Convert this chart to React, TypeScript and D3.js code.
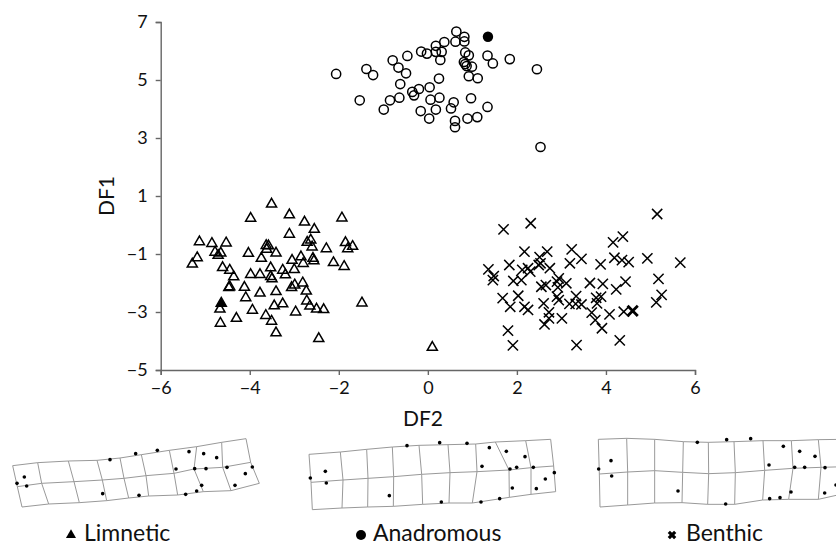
import React, { useRef, useEffect } from 'react';
import * as d3 from 'd3';

type Pt = [number, number];

const xTicks = [-6, -4, -2, 0, 2, 4, 6];
const yTicks = [-5, -3, -1, 1, 3, 5, 7];

// DF2, DF1
const anadromous: Pt[] = [
  [-2.06, 5.21], [-1.38, 5.38], [-1.23, 5.17], [-1.53, 4.3], [-0.99, 3.98], [-0.85, 4.3], [-0.64, 4.39], [-0.62, 4.86],
  [-0.49, 5.23], [-0.66, 5.43], [-0.79, 5.68], [-0.46, 5.83], [-0.15, 5.98], [-0.02, 5.91], [0.18, 6.18], [0.18, 5.97],
  [0.31, 5.97], [0.28, 5.69], [0.37, 6.31], [0.62, 6.32], [0.64, 6.67], [0.82, 6.49], [0.82, 6.33], [0.84, 5.95],
  [0.92, 5.85], [0.81, 5.62], [0.84, 5.55], [0.87, 5.48], [0.99, 5.46], [0.92, 5.13], [1.12, 5.06], [1.34, 5.84],
  [1.46, 5.57], [1.84, 5.72], [2.45, 5.37], [2.53, 2.69], [0.25, 5.05], [0.04, 4.75], [-0.2, 4.69], [-0.35, 4.59],
  [-0.31, 4.47], [0.06, 4.32], [0.26, 4.39], [0.58, 4.23], [0.52, 4.02], [0.97, 4.37], [1.34, 4.07], [1.11, 3.72],
  [0.89, 3.67], [0.61, 3.59], [0.61, 3.37], [0.18, 3.98], [-0.16, 3.93], [0.03, 3.67],
];
const limnetic: Pt[] = [
  [-3.51, 0.72], [-3.98, 0.23], [-3.11, 0.35], [-2.77, 0.1], [-1.93, 0.24], [-2.55, -0.15], [-3.11, -0.32], [-5.13, -0.58],
  [-4.85, -0.64], [-4.53, -0.62], [-4.78, -0.94], [-4.65, -0.97], [-4.71, -1.05], [-5.18, -1.13], [-5.29, -1.35], [-4.03, -0.98],
  [-3.74, -1.15], [-3.63, -0.71], [-3.58, -0.72], [-3.62, -0.84], [-3.41, -0.97], [-2.71, -0.6], [-2.63, -0.52], [-2.6, -0.76],
  [-2.28, -0.82], [-1.85, -0.61], [-1.8, -0.82], [-1.69, -0.74], [-3.05, -1.22], [-2.85, -1.1], [-2.8, -1.33], [-2.58, -1.15],
  [-2.56, -1.24], [-2.12, -1.3], [-1.88, -1.43], [-4.61, -1.47], [-4.45, -1.56], [-4.36, -1.79], [-4.45, -2.13], [-4.47, -2.16],
  [-3.98, -1.71], [-3.77, -1.71], [-3.53, -1.48], [-3.26, -1.56], [-3.2, -1.72], [-3.0, -1.54], [-3.53, -1.78], [-3.5, -1.86],
  [-4.12, -2.15], [-3.77, -2.35], [-3.41, -2.3], [-4.09, -2.51], [-3.06, -2.16], [-2.99, -2.07], [-2.81, -2.0], [-2.73, -2.28],
  [-2.72, -2.62], [-2.65, -2.8], [-2.5, -2.9], [-2.34, -2.92], [-1.48, -2.69], [-3.26, -2.72], [-3.45, -2.79], [-3.94, -2.94],
  [-2.97, -3.0], [-3.64, -3.12], [-3.51, -3.32], [-3.41, -3.72], [-2.45, -3.92], [-4.3, -3.22], [-4.66, -3.39], [-4.67, -2.9],
  [0.1, -4.22],
];
const benthic: Pt[] = [
  [5.15, 0.38], [2.31, 0.06], [1.7, -0.15], [4.38, -0.4], [4.16, -0.6], [2.17, -0.92], [2.68, -0.92], [3.23, -0.84],
  [2.51, -1.11], [3.45, -1.17], [3.19, -1.32], [3.88, -1.36], [4.19, -1.13], [4.36, -1.21], [4.51, -1.28], [4.93, -1.15],
  [5.67, -1.3], [1.36, -1.53], [1.48, -1.76], [1.46, -1.9], [1.83, -1.38], [2.12, -1.55], [2.25, -1.49], [2.3, -1.61],
  [2.53, -1.32], [2.49, -1.38], [2.74, -1.49], [1.92, -1.93], [2.1, -1.9], [2.55, -2.13], [2.65, -2.07], [2.9, -1.95],
  [2.94, -1.84], [3.11, -2.01], [2.92, -2.15], [3.64, -2.0], [3.93, -2.03], [4.44, -1.95], [4.23, -2.22], [5.18, -1.86],
  [5.25, -2.41], [5.13, -2.67], [1.68, -2.52], [2.03, -2.44], [1.85, -2.82], [2.17, -2.82], [2.25, -2.93], [2.6, -2.7],
  [2.9, -2.47], [2.94, -2.59], [3.33, -2.45], [3.18, -2.72], [3.32, -2.72], [3.45, -2.74], [3.78, -2.51], [3.89, -2.47],
  [3.8, -2.7], [3.68, -3.02], [4.08, -3.08], [3.76, -3.28], [3.91, -3.56], [4.4, -2.99], [2.72, -3.01], [2.72, -3.22],
  [2.62, -3.43], [3.01, -3.22], [1.8, -3.64], [1.91, -4.15], [3.34, -4.14], [4.31, -3.98],
];
const limneticMean: Pt[] = [[-4.64, -2.7]];
const anadromousMean: Pt[] = [[1.35, 6.49]];
const benthicMean: Pt[] = [[4.6, -2.96]];

// deformation grids: columns of top, middle and bottom nodes, in panel units
const limneticGrid: Pt[][] = [
  [[38, 122], [52, 185], [66, 246]], [[113, 113], [125, 175], [146, 237]], [[205, 108], [222, 170], [238, 233]],
  [[291, 106], [307, 165], [320, 227]], [[360, 99], [372, 160], [386, 219]], [[424, 89], [438, 152], [446, 213]],
  [[508, 76], [522, 145], [533, 210]], [[590, 65], [582, 132], [610, 200]], [[665, 52], [668, 127], [693, 197]],
  [[738, 41], [752, 112], [778, 175]],
];
const limneticDots: Pt[] = [
  [73, 156], [51, 175], [80, 183], [330, 104], [407, 86], [472, 76], [567, 80], [611, 86], [650, 98], [528, 132], [584, 131],
  [618, 131], [681, 127], [757, 126], [736, 146], [705, 181], [605, 181], [590, 198], [557, 208], [417, 211], [308, 206],
];
const anadromousGrid: Pt[][] = [
  [[57, 88], [63, 172], [67, 254]], [[151, 81], [159, 165], [156, 249]], [[230, 73], [234, 160], [233, 246]],
  [[307, 66], [311, 155], [310, 244]], [[387, 61], [395, 148], [398, 238]], [[474, 59], [480, 143], [477, 234]],
  [[557, 57], [561, 140], [547, 234]], [[616, 51], [657, 135], [658, 217]], [[707, 47], [723, 128], [723, 208]],
  [[782, 43], [791, 123], [797, 200]],
];
const anadromousDots: Pt[] = [
  [106, 139], [61, 159], [109, 174], [351, 62], [449, 53], [531, 55], [598, 68], [649, 79], [705, 95], [576, 124], [660, 132],
  [680, 127], [730, 127], [793, 143], [766, 162], [739, 191], [667, 189], [629, 221], [573, 231], [454, 231], [298, 212],
];
const benthicGrid: Pt[][] = [
  [[67, 43], [70, 147], [72, 246]], [[152, 40], [155, 141], [155, 240]], [[236, 43], [236, 137], [236, 234]],
  [[322, 50], [320, 142], [318, 233]], [[397, 52], [398, 146], [395, 238]], [[474, 50], [478, 143], [476, 238]],
  [[561, 47], [566, 136], [560, 225]], [[646, 47], [651, 130], [638, 223]], [[727, 44], [735, 127], [727, 223]],
  [[800, 43], [810, 125], [830, 200]],
];
const benthicDots: Pt[] = [
  [105, 107], [68, 132], [107, 153], [364, 52], [452, 44], [524, 41], [622, 64], [671, 79], [717, 94], [579, 120], [656, 127],
  [686, 127], [747, 128], [746, 204], [645, 201], [612, 218], [581, 221], [449, 237], [306, 198], [780, 180],
];

const FONT = 'Lato, "Noto Sans", sans-serif';

const App = () => {
  const ref = useRef<SVGSVGElement>(null);

  useEffect(() => {
    const svg = d3.select(ref.current);
    svg.selectAll('*').remove();

    const x = d3.scaleLinear().domain([-6, 6]).range([160.7, 695]);
    const y = d3.scaleLinear().domain([-5, 7]).range([370, 22]);

    const styleAxis = (g: any) => {
      g.selectAll('path,line').attr('stroke', '#666').attr('stroke-width', 1.4);
      g.selectAll('text').attr('fill', '#111').attr('font-family', FONT).attr('font-size', 18);
    };

    svg.append('g').attr('transform', `translate(${x(-6)},0)`)
      .call(d3.axisLeft(y).tickValues(yTicks).tickSizeOuter(0).tickSize(5).tickPadding(8))
      .call(styleAxis);
    svg.append('g').attr('transform', `translate(0,${y(-5)})`)
      .call(d3.axisBottom(x).tickValues(xTicks).tickSizeOuter(0).tickSize(5).tickPadding(6))
      .call(styleAxis);

    svg.append('text').attr('x', 423).attr('y', 426).attr('text-anchor', 'middle')
      .attr('font-family', FONT).attr('font-size', 21).attr('fill', '#111').text('DF2');
    svg.append('text').attr('transform', 'translate(114,196) rotate(-90)').attr('text-anchor', 'middle')
      .attr('font-family', FONT).attr('font-size', 21).attr('fill', '#111').text('DF1');

    const triangle = d3.symbol().type(d3.symbolTriangle).size(44)();
    const times = d3.symbol().type(d3.symbolTimes).size(70)();

    const drawSymbols = (data: Pt[], path: string | null, opts: any) =>
      svg.append('g').selectAll('path').data(data).enter().append('path')
        .attr('transform', d => `translate(${x(d[0])},${y(d[1])})`)
        .attr('d', path)
        .attr('fill', opts.fill)
        .attr('stroke', '#000')
        .attr('stroke-width', opts.width);

    svg.append('g').selectAll('circle').data(anadromous).enter().append('circle')
      .attr('cx', d => x(d[0])).attr('cy', d => y(d[1])).attr('r', 4.6)
      .attr('fill', 'none').attr('stroke', '#000').attr('stroke-width', 1.5);
    drawSymbols(limnetic, triangle, { fill: 'none', width: 1.5 });
    drawSymbols(benthic, times, { fill: 'none', width: 1.5 });

    svg.append('g').selectAll('circle').data(anadromousMean).enter().append('circle')
      .attr('cx', d => x(d[0])).attr('cy', d => y(d[1])).attr('r', 5.2).attr('fill', '#000');
    drawSymbols(limneticMean, triangle, { fill: '#000', width: 1.5 });
    drawSymbols(benthicMean, times, { fill: 'none', width: 2.8 });

    // Deformation grids
    const drawGrid = (left: number, top: number, grid: Pt[][], dots: Pt[]) => {
      const px = d3.scaleLinear().domain([0, 3]).range([left, left + 1]);
      const py = d3.scaleLinear().domain([0, 3]).range([top, top + 1]);
      const line = d3.line<Pt>().x(d => px(d[0])).y(d => py(d[1]));
      const g = svg.append('g');
      const rows = [0, 1, 2].map(r => grid.map(col => col[r]));
      g.selectAll('path').data([...grid, ...rows]).enter().append('path')
        .attr('d', d => line(d))
        .attr('fill', 'none').attr('stroke', '#999').attr('stroke-width', 1);
      g.selectAll('circle').data(dots).enter().append('circle')
        .attr('cx', d => px(d[0])).attr('cy', d => py(d[1])).attr('r', 1.8).attr('fill', '#000');
    };
    drawGrid(0, 425, limneticGrid, limneticDots);
    drawGrid(290, 425, anadromousGrid, anadromousDots);
    drawGrid(576, 425, benthicGrid, benthicDots);

    // Legend under the grids
    const legendText = (lx: number, label: string) =>
      svg.append('text').attr('x', lx).attr('y', 541)
        .attr('font-family', FONT).attr('font-size', 23).attr('fill', '#111').text(label);
    legendText(84, 'Limnetic');
    legendText(373, 'Anadromous');
    legendText(686, 'Benthic');
    svg.append('path').attr('transform', 'translate(71,535)')
      .attr('d', d3.symbol().type(d3.symbolTriangle).size(44)()).attr('fill', '#000');
    svg.append('circle').attr('cx', 361).attr('cy', 535).attr('r', 5).attr('fill', '#000');
    svg.append('path').attr('transform', 'translate(672,535)')
      .attr('d', d3.symbol().type(d3.symbolTimes).size(28)()).attr('fill', 'none')
      .attr('stroke', '#000').attr('stroke-width', 3.2);
  }, []);

  return (
    <svg ref={ref} width={836} height={546}
      style={{ position: 'absolute', left: 0, top: 0, background: '#fff' }} />
  );
};

export default App;
